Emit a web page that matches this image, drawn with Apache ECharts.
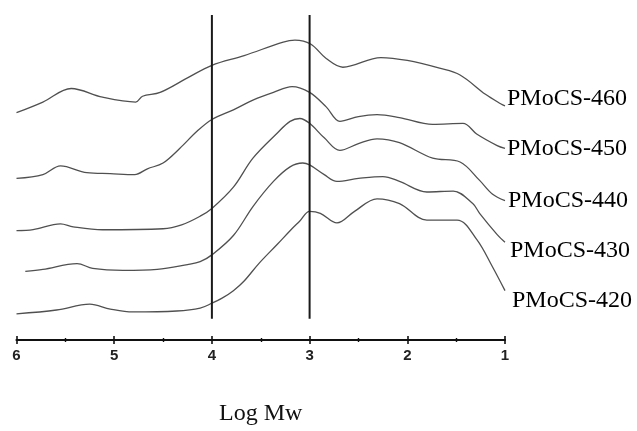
<!DOCTYPE html>
<html>
<head>
<meta charset="utf-8">
<script src="https://cdn.jsdelivr.net/npm/echarts@6/dist/echarts.min.js"></script>
<style>
  html, body { margin: 0; padding: 0; background: #fff; }
  #main { width: 637px; height: 431px; }
</style>
</head>
<body>
<div id="main"></div>
<script>
// GPC traces, Log Mw vs. detector response (offset per sample)
var s460 = [[6.00,235],[5.73,246],[5.44,260],[5.12,251],[4.78,246],[4.71,252],[4.53,256],[4.25,271],[4.00,284],[3.67,294],[3.27,308],[3.15,310],[2.99,306],[2.83,291],[2.66,282],[2.27,292],[2.00,289],[1.67,281],[1.46,274],[1.20,254],[1.04,244],[1.00,242]];
var s450 = [[6.00,167],[5.73,171],[5.55,180],[5.28,173],[5.04,172],[4.79,171],[4.66,177],[4.50,183],[4.33,198],[4.15,216],[4.00,228],[3.78,238],[3.58,248],[3.37,256],[3.18,262],[3.00,256],[2.83,241],[2.69,226],[2.50,231],[2.31,233],[2.08,230],[1.74,223],[1.43,224],[1.29,213],[1.08,201],[1.00,198]];
var s440 = [[6.00,113],[5.83,114],[5.55,120],[5.42,117],[5.12,114],[4.50,115],[4.31,119],[4.12,128],[4.00,136],[3.78,158],[3.58,188],[3.33,214],[3.20,226],[3.10,229],[3.00,224],[2.85,209],[2.69,196],[2.50,203],[2.31,208],[2.08,204],[1.74,188],[1.46,184],[1.26,165],[1.13,151],[1.00,144]];
var s430 = [[5.91,71],[5.73,73],[5.38,79],[5.22,74],[4.91,72],[4.56,73],[4.25,78],[4.12,81],[4.00,88],[3.78,108],[3.58,138],[3.37,164],[3.20,179],[3.07,183],[3.00,181],[2.85,171],[2.72,164],[2.50,167],[2.25,169],[2.08,164],[1.80,153],[1.53,154],[1.33,141],[1.26,131],[1.08,109],[1.00,101]];
var s420 = [[6.00,27],[5.59,31],[5.25,37],[5.04,32],[4.81,29],[4.36,30],[4.12,33],[4.00,38],[3.90,43],[3.78,51],[3.67,61],[3.52,79],[3.33,99],[3.20,113],[3.10,123],[3.00,133],[2.89,131],[2.72,121],[2.54,133],[2.31,146],[2.08,141],[1.80,124],[1.49,124],[1.29,104],[1.13,76],[1.00,51]];

var names = ['PMoCS-460', 'PMoCS-450', 'PMoCS-440', 'PMoCS-430', 'PMoCS-420'];
var labelShift = [[2, -7], [2, 0], [3, 0], [5, 8], [7, 10]];

// vertical reference lines at Log Mw = 4 and 3
var refLines = [4, 3];
var refBottom = 22, refTop = 336;

var chartDom = document.getElementById('main');
var myChart = echarts.init(chartDom);

var traces = [s460, s450, s440, s430, s420];
var series = traces.map(function (d, i) {
  return {
    name: names[i],
    type: 'line',
    data: d,
    smooth: 0.35,
    showSymbol: false,
    lineStyle: { color: '#505050', width: 1.3 },
    endLabel: {
      show: true,
      formatter: '{a}',
      distance: 0,
      align: 'left',
      verticalAlign: 'middle',
      offset: labelShift[i],
      fontFamily: 'Liberation Serif',
      fontSize: 24,
      color: '#000'
    },
    silent: true
  };
});

refLines.forEach(function (x) {
  series.push({
    type: 'line',
    data: [[x, refBottom], [x, refTop]],
    showSymbol: false,
    lineStyle: { color: '#1a1a1a', width: 2 },
    silent: true
  });
});

var option = {
  animation: false,
  grid: { left: 16.5, right: 132, top: 15, bottom: 80 },
  xAxis: [
    {
      type: 'value',
      min: 1,
      max: 6,
      interval: 1,
      inverse: true,
      position: 'bottom',
      name: 'Log Mw',
      nameLocation: 'middle',
      nameGap: 62,
      nameTextStyle: { fontFamily: 'Liberation Serif', fontSize: 24, color: '#111' },
      axisLine: { lineStyle: { color: '#111', width: 2.2 } },
      axisTick: { length: 4, lineStyle: { color: '#111', width: 1.6 } },
      minorTick: { show: true, splitNumber: 2, length: 2, lineStyle: { color: '#111', width: 1.4 } },
      axisLabel: { fontFamily: 'Liberation Sans', fontWeight: 'bold', fontSize: 15, color: '#222', margin: 8 },
      splitLine: { show: false }
    },
    {
      type: 'value',
      min: 1,
      max: 6,
      interval: 1,
      inverse: true,
      position: 'bottom',
      axisLine: { show: false },
      axisTick: { inside: true, length: 4, lineStyle: { color: '#111', width: 1.6 } },
      minorTick: { show: true, splitNumber: 2, length: 2, lineStyle: { color: '#111', width: 1.4 } },
      axisLabel: { show: false },
      splitLine: { show: false }
    }
  ],
  yAxis: {
    type: 'value',
    min: 0,
    max: 336,
    show: false
  },
  series: series
};

option && myChart.setOption(option);
</script>
</body>
</html>
